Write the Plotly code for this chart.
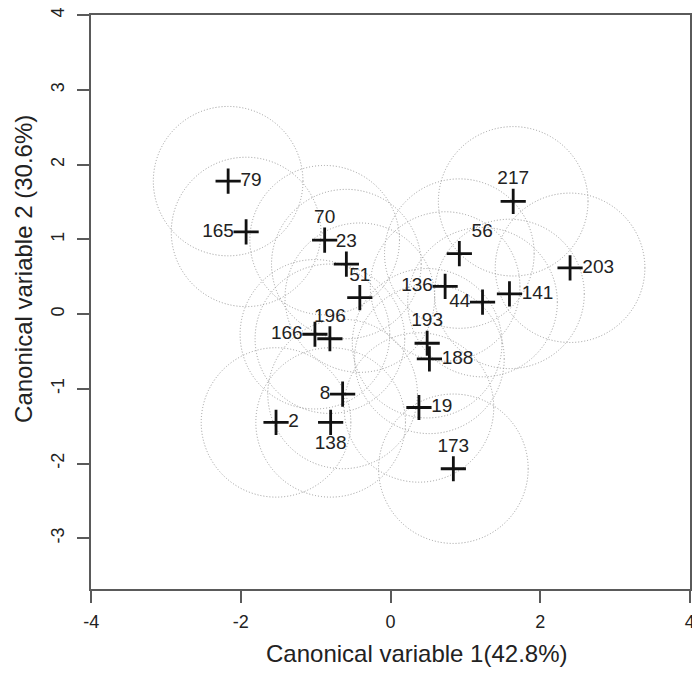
import plotly.graph_objects as go

labels = ["79", "165", "70", "23", "51", "166", "196", "8", "2", "138",
          "56", "217", "203", "136", "44", "141", "193", "188", "19", "173"]
cv1 = [-2.17, -1.93, -0.88, -0.59, -0.41, -1.01, -0.81, -0.64, -1.53, -0.80,
       0.92, 1.64, 2.40, 0.73, 1.23, 1.59, 0.49, 0.52, 0.38, 0.84]
cv2 = [1.78, 1.10, 0.99, 0.67, 0.22, -0.27, -0.33, -1.07, -1.45, -1.45,
       0.81, 1.51, 0.62, 0.37, 0.16, 0.27, -0.39, -0.60, -1.25, -2.07]
label_pos = ["middle right", "middle left", "top center", "top center", "top center",
             "middle left", "top center", "middle left", "middle right", "bottom center",
             "top right", "top center", "middle right", "middle left", "middle left",
             "middle right", "top center", "middle right", "middle right", "top center"]
radius = 1.0

x_ticks = [-4, -2, 0, 2, 4]
x_ticktext = ["-4", "-2", "0", "2", "4"]
y_ticks = [-3, -2, -1, 0, 1, 2, 3, 4]
y_ticktext = ["-3", "-2", "-1", "0", "1", "2", "3", "4"]

FONT = "Liberation Sans, Arial, sans-serif"

fig = go.Figure()

shapes = []
for cx, cy in zip(cv1, cv2):
    shapes.append(dict(type="circle", xref="x", yref="y",
                       x0=cx - radius, x1=cx + radius, y0=cy - radius, y1=cy + radius,
                       line=dict(color="#9a9a9a", width=1, dash="1px,2px"), layer="below"))

fig.add_trace(go.Scatter(
    x=cv1, y=cv2, mode="markers+text", text=labels, textposition=label_pos,
    marker=dict(symbol="cross-thin", size=18, line=dict(width=2.8, color="#111111")),
    textfont=dict(family=FONT, size=19, color="#222222"),
    cliponaxis=False, showlegend=False, hoverinfo="skip"))

axis_common = dict(showgrid=False, zeroline=False, showline=True, linecolor="#5a5a5a",
                   linewidth=1.5, mirror=True, ticks="outside", ticklen=12,
                   tickcolor="#5a5a5a", tickwidth=1.5, automargin=False,
                   ticklabeloverflow="allow",
                   tickfont=dict(family=FONT, size=18, color="#222222"))

# page body has an 8px margin; compensate so the plot area sits at x 91-690, y 15-589
fig.update_layout(
    width=692, height=669,
    margin=dict(l=83, r=10, t=7, b=88, autoexpand=False),
    paper_bgcolor="white", plot_bgcolor="white",
    shapes=shapes,
    xaxis=dict(range=[-4.003, 4.003], tickvals=x_ticks, ticktext=x_ticktext,
               ticklabelstandoff=4, **axis_common),
    yaxis=dict(range=[-3.68, 4.004], tickvals=y_ticks, ticktext=y_ticktext, tickangle=-90,
               ticklabelstandoff=6, **axis_common),
    annotations=[
        dict(text="Canonical variable 1(42.8%)", xref="paper", yref="paper",
             x=0.544, y=-0.112, xanchor="center", yanchor="middle", showarrow=False,
             font=dict(family=FONT, size=24, color="#222222")),
        dict(text="Canonical variable 2 (30.6%)", xref="paper", yref="paper",
             x=-0.112, y=0.5575, xanchor="center", yanchor="middle", showarrow=False,
             textangle=-90, font=dict(family=FONT, size=24, color="#222222")),
    ],
)

fig.write_html("out.html")
